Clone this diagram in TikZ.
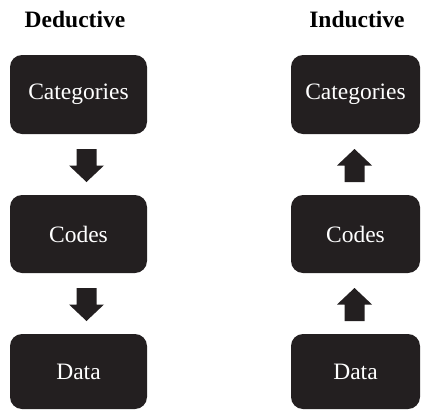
\documentclass[tikz,border=0pt]{standalone}
\usepackage{fontspec}
\setmainfont{Liberation Serif}
\usetikzlibrary{calc}
\definecolor{boxfill}{HTML}{231F20}
\tikzset{
  stage/.style={rectangle, rounded corners=12pt, fill=boxfill, text=white,
    font=\fontsize{23.5}{26}\selectfont, inner sep=0pt},
  leftstage/.style={stage, minimum width=137pt},
  rightstage/.style={stage, minimum width=129pt},
  heading/.style={font=\fontsize{23.5}{26}\selectfont\bfseries, anchor=base},
  blockarrow/.style={fill=boxfill}
}
% block arrow pointing down (1) or up (-1), centred on a coordinate
\newcommand\flowarrow[2]{%
  \fill[blockarrow, shift={(#1)}, yscale=#2]
    (-10pt,16.5pt) -- (10pt,16.5pt) -- (10pt,0pt) -- (17.5pt,0pt)
    -- (0pt,-16.5pt) -- (-17.5pt,0pt) -- (-10pt,0pt) -- cycle;}
\begin{document}
\begin{tikzpicture}[x=1pt, y=-1pt]
  \useasboundingbox (0,0) rectangle (421,410);
  % headings
  \node[heading] (dedh) at (75,27) {Deductive};
  \node[heading] (indh) at (357,27) {Inductive};
  % deductive column
  \node[leftstage, minimum height=79pt] (dcat) at (78.5,94.5) {Categories};
  \node[leftstage, minimum height=78pt] (dcod) at (78.5,234) {Codes};
  \node[leftstage, minimum height=75pt] (ddat) at (78.5,371.5) {Data};
  % inductive column
  \node[rightstage, minimum height=79pt] (icat) at (355.5,94.5) {Categories};
  \node[rightstage, minimum height=78pt] (icod) at (355.5,234) {Codes};
  \node[rightstage, minimum height=75pt] (idat) at (355.5,371.5) {Data};
  % arrows between the stages
  \coordinate (da1) at ($($(dcat.south)!0.5!(dcod.north)$)+(8,1)$);
  \coordinate (da2) at ($($(dcod.south)!0.5!(ddat.north)$)+(8,1)$);
  \coordinate (ia1) at ($($(icat.south)!0.5!(icod.north)$)+(-1,1)$);
  \coordinate (ia2) at ($($(icod.south)!0.5!(idat.north)$)+(-1,1)$);
  \flowarrow{da1}{1}
  \flowarrow{da2}{1}
  \flowarrow{ia1}{-1}
  \flowarrow{ia2}{-1}
\end{tikzpicture}
\end{document}
